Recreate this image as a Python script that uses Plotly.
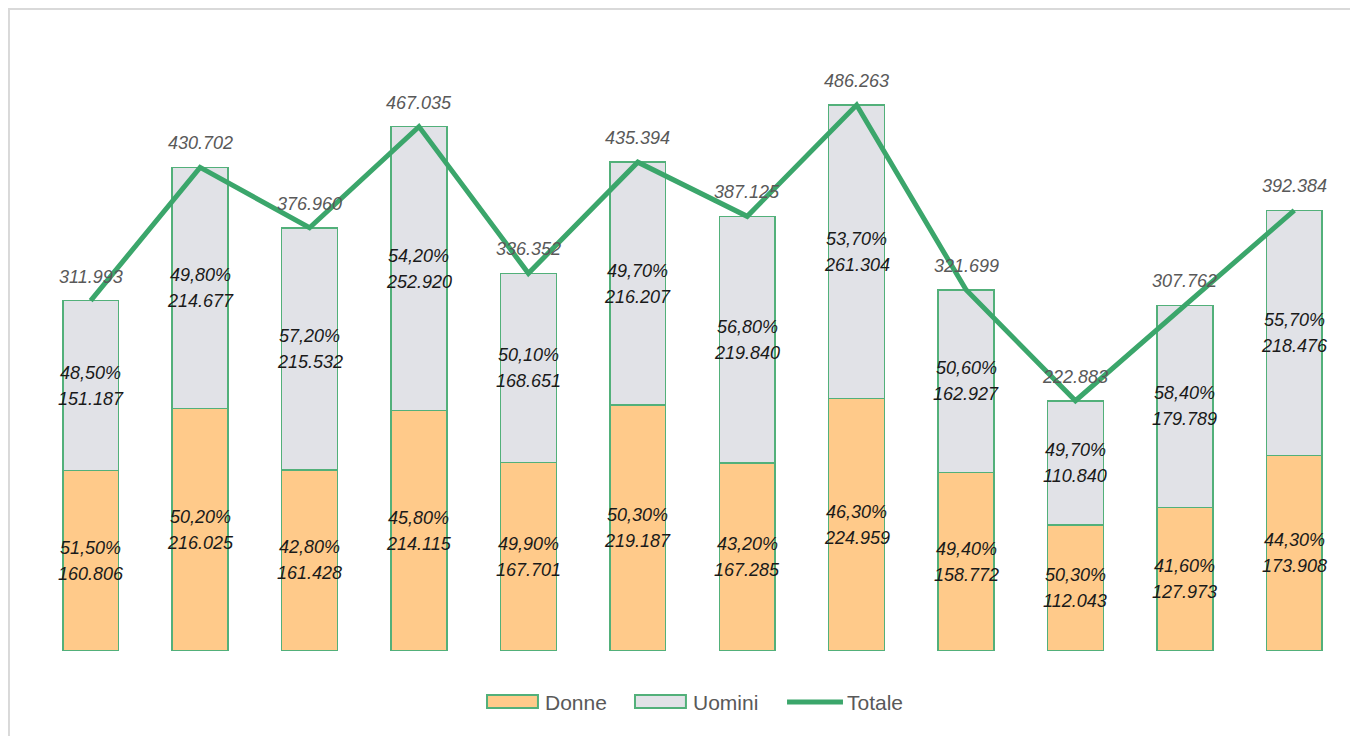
import plotly.graph_objects as go

categories = [f"M{i}" for i in range(1, 13)]
donne = [160806, 216025, 161428, 214115, 167701, 219187, 167285, 224959, 158772, 112043, 127973, 173908]
uomini = [151187, 214677, 215532, 252920, 168651, 216207, 219840, 261304, 162927, 110840, 179789, 218476]
totale = [311993, 430702, 376960, 467035, 336352, 435394, 387125, 486263, 321699, 222883, 307762, 392384]
pct_donne = ["51,50%", "50,20%", "42,80%", "45,80%", "49,90%", "50,30%", "43,20%", "46,30%", "49,40%", "50,30%", "41,60%", "44,30%"]
pct_uomini = ["48,50%", "49,80%", "57,20%", "54,20%", "50,10%", "49,70%", "56,80%", "53,70%", "50,60%", "49,70%", "58,40%", "55,70%"]


def it(v):
    return f"{v:,}".replace(",", ".")


GREEN = "#3BA66B"
EDGE = "#52B07A"
ORANGE = "#FFCA8A"
GREY = "#E1E2E7"
FONT = "Liberation Sans"
lab_font = dict(family=FONT, size=18, color="#1a1a1a", style="italic")

fig = go.Figure()
fig.add_trace(go.Bar(x=categories, y=donne, name="Donne", showlegend=False,
                     marker=dict(color=ORANGE, line=dict(color=EDGE, width=1.5))))
fig.add_trace(go.Bar(x=categories, y=uomini, name="Uomini", showlegend=False,
                     marker=dict(color=GREY, line=dict(color=EDGE, width=1.5))))
fig.add_trace(go.Scatter(x=categories, y=totale, name="Totale", mode="lines", showlegend=False,
                         line=dict(color=GREEN, width=5)))

# inner labels (percentage above, value below the segment midpoint)
for c, d, u, pd_, pu in zip(categories, donne, uomini, pct_donne, pct_uomini):
    for mid, p, v in ((d / 2, pd_, d), (d + u / 2, pu, u)):
        fig.add_annotation(x=c, y=mid, text=p, showarrow=False, yshift=13, font=lab_font)
        fig.add_annotation(x=c, y=mid, text=it(v), showarrow=False, yshift=-13, font=lab_font)

for c, t in zip(categories, totale):
    fig.add_annotation(x=c, y=t, text=it(t), showarrow=False, yshift=24,
                       font=dict(family=FONT, size=18, color="#595959", style="italic"))

# outer frame
fig.add_shape(type="rect", xref="paper", yref="paper", x0=-0.0206, x1=1.03, y0=-0.2, y1=1.0682,
              line=dict(color="#D9D9D9", width=2), layer="below")

# legend (drawn manually to match wide swatches)
leg_font = dict(family=FONT, size=21, color="#595959")
leg_y = -0.0849
for x0, x1, tx, name, col in ((0.3435, 0.3823, 0.3861, "Donne", ORANGE),
                              (0.4562, 0.4950, 0.4989, "Uomini", GREY)):
    fig.add_shape(type="rect", xref="paper", yref="paper", x0=x0, x1=x1, y0=-0.0948, y1=-0.0732,
                  fillcolor=col, line=dict(color=EDGE, width=2))
    fig.add_annotation(xref="paper", yref="paper", x=tx, y=leg_y, text=name, showarrow=False,
                       xanchor="left", yanchor="middle", font=leg_font)
fig.add_shape(type="line", xref="paper", yref="paper", x0=0.5720, x1=0.6146, y0=leg_y, y1=leg_y,
              line=dict(color=GREEN, width=5))
fig.add_annotation(xref="paper", yref="paper", x=0.6162, y=leg_y, text="Totale", showarrow=False,
                   xanchor="left", yanchor="middle", font=leg_font)

fig.update_layout(
    width=1358, height=736,
    barmode="stack", bargap=0.49,
    margin=dict(l=28, r=17, t=42, b=93),
    plot_bgcolor="white", paper_bgcolor="white",
    font=dict(family=FONT),
    showlegend=False,
    xaxis=dict(visible=False, range=[-0.5, 11.5]),
    yaxis=dict(visible=False, range=[0, 535270]),
)

fig.write_html("out.html")
